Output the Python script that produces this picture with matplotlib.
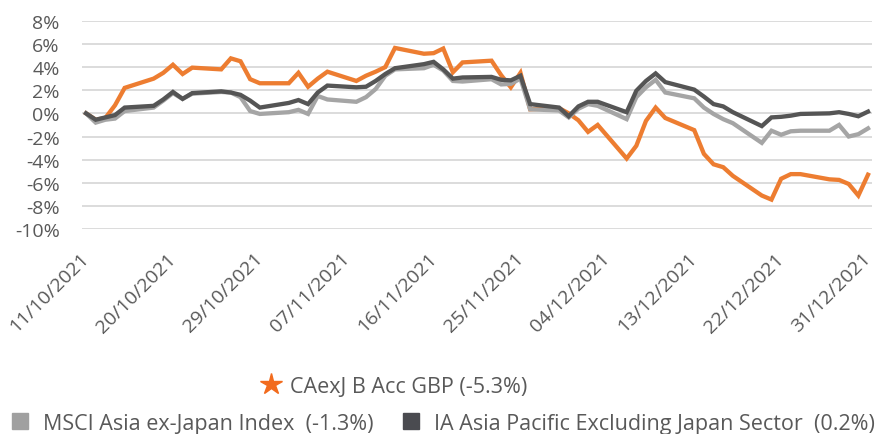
import matplotlib
matplotlib.use("Agg")
import matplotlib.pyplot as plt
from matplotlib.lines import Line2D
import pandas as pd

# ---- palette ----
ORANGE, LIGHT, DARK = "#ED7D31", "#A5A5A5", "#555555"
STAR = "#F26B1D"
TXT, GRID = "#595959", "#D9D9D9"

plt.rcParams.update({
    "font.family": ["Open Sans", "DejaVu Sans"],
    "font.size": 14,
    "text.color": TXT,
    "xtick.color": TXT, "ytick.color": TXT,
})

# business days 11/10/2021 .. 31/12/2021 (60 points)
dates = pd.bdate_range("2021-10-11", "2021-12-31")

# cumulative performance, %
fund = [0.0, -0.55, -0.4, 0.7, 2.2,
        3.0, 3.5, 4.2, 3.4, 3.95,
        3.8, 4.75, 4.5, 2.95, 2.6,
        2.6, 3.5, 2.3, 3.0, 3.6,
        2.8, 3.25, 3.6, 4.0, 5.65,
        5.15, 5.2, 5.6, 3.55, 4.4,
        4.55, 3.3, 2.25, 3.5, 0.35,
        0.45, 0.0, -0.6, -1.6, -1.0,
        -3.9, -2.8, -0.65, 0.5, -0.4,
        -1.45, -3.5, -4.4, -4.65, -5.4,
        -7.1, -7.45, -5.65, -5.25, -5.25,
        -5.7, -5.75, -6.1, -7.1, -5.3]

msci = [0.0, -0.8, -0.55, -0.45, 0.2,
        0.5, 1.1, 1.75, 1.25, 1.7,
        1.85, 1.8, 1.4, 0.2, -0.05,
        0.1, 0.3, -0.05, 1.5, 1.2,
        1.0, 1.4, 2.1, 3.25, 3.8,
        3.9, 4.2, 3.7, 2.8, 2.75,
        2.95, 2.5, 2.55, 3.0, 0.35,
        0.25, -0.35, 0.4, 0.8, 0.65,
        -0.5, 1.4, 2.25, 2.9, 1.8,
        1.3, 0.5, -0.05, -0.5, -0.85,
        -2.55, -1.5, -1.85, -1.55, -1.5,
        -1.5, -1.0, -2.0, -1.8, -1.3]

sector = [0.0, -0.55, -0.35, -0.15, 0.5,
          0.65, 1.2, 1.85, 1.25, 1.75,
          1.9, 1.8, 1.6, 1.1, 0.5,
          0.9, 1.15, 0.8, 1.8, 2.4,
          2.25, 2.3, 2.8, 3.4, 3.9,
          4.25, 4.45, 3.8, 3.0, 3.1,
          3.15, 2.9, 2.85, 3.25, 0.8,
          0.5, -0.25, 0.6, 1.0, 1.0,
          0.1, 1.95, 2.8, 3.45, 2.7,
          2.05, 1.45, 0.8, 0.6, 0.1,
          -1.1, -0.35, -0.3, -0.2, -0.05,
          0.0, 0.1, -0.05, -0.25, 0.15]

labels = ["CAexJ B Acc GBP (-5.3%)",
          "MSCI Asia ex-Japan Index  (-1.3%)",
          "IA Asia Pacific Excluding Japan Sector  (0.2%)"]
yticks = list(range(-10, 9, 2))
xticks = pd.date_range("2021-10-11", "2021-12-31", freq="9D")

fig = plt.figure(figsize=(8.82, 4.35), dpi=100)
ax = fig.add_axes([0.093, 0.471, 0.8957, 0.479])

ax.plot(dates, fund, color=ORANGE, lw=3.1, solid_joinstyle="miter", zorder=3)
ax.plot(dates, msci, color=LIGHT, lw=3.1, solid_joinstyle="miter", zorder=4)
ax.plot(dates, sector, color=DARK, lw=3.1, solid_joinstyle="miter", zorder=5)

ax.set_ylim(-10, 8)
ax.set_yticks(yticks)
ax.set_yticklabels([f"{v}%" for v in yticks])
ax.set_xlim(dates[0] - pd.Timedelta(hours=10), dates[-1] + pd.Timedelta(hours=10))
ax.set_xticks(xticks)
ax.set_xticklabels([d.strftime("%d/%m/%Y") for d in xticks], rotation=45,
                   ha="right", va="center", rotation_mode="anchor")
ax.tick_params(axis="x", length=0, pad=19)
ax.tick_params(axis="y", length=0, pad=16)
ax.grid(axis="y", color=GRID, lw=1.3)
ax.set_axisbelow(True)
for s in ax.spines.values():
    s.set_visible(False)

# legend: star row, then two squares
h1 = [Line2D([], [], ls="none", marker="*", ms=16, color=STAR)]
fig.legend(h1, labels[:1], loc="center", bbox_to_anchor=(0.445, 0.11),
           frameon=False, fontsize=15.5, handletextpad=0.3, handlelength=1.2)
h2 = [Line2D([], [], ls="none", marker="s", ms=11, color="#A0A0A0"),
      Line2D([], [], ls="none", marker="s", ms=11, color="#4A4B50")]
fig.legend(h2, labels[1:], loc="center", bbox_to_anchor=(0.5, 0.025), ncol=2,
           frameon=False, fontsize=15.5, handletextpad=0.5, handlelength=1.2,
           columnspacing=1.1)

fig.savefig("out.png", dpi=100)
